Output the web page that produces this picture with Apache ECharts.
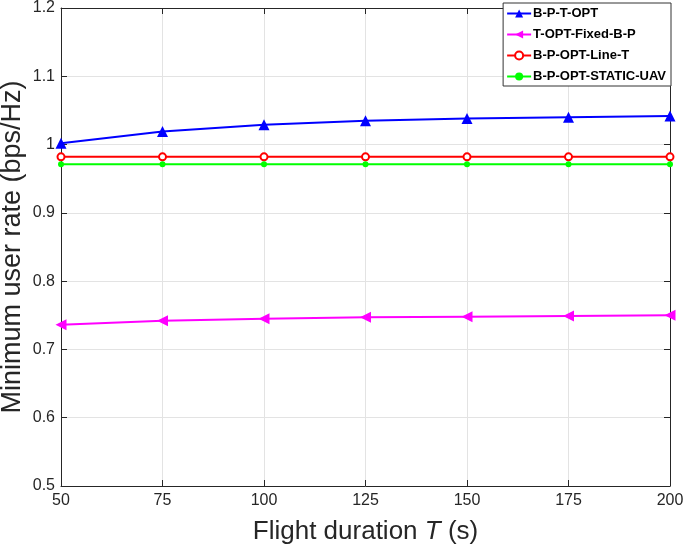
<!DOCTYPE html>
<html>
<head>
<meta charset="utf-8">
<script src="https://cdn.jsdelivr.net/npm/echarts@6/dist/echarts.min.js"></script>
<style>
  html, body { margin: 0; padding: 0; background: #fff; }
  #main { width: 685px; height: 549px; }
</style>
</head>
<body>
<div id="main"></div>
<script>
// flight duration T (s)
var durations = [50, 75, 100, 125, 150, 175, 200];

// minimum user rate (bps/Hz)
var bptOpt      = [1.002, 1.019, 1.029, 1.035, 1.038, 1.040, 1.042];
var tOptFixed   = [0.736, 0.742, 0.745, 0.747, 0.748, 0.749, 0.750];
var bpOptLine   = [0.982, 0.982, 0.982, 0.982, 0.982, 0.982, 0.982];
var bpOptStatic = [0.971, 0.971, 0.971, 0.971, 0.971, 0.971, 0.971];

var seriesNames = ['B-P-T-OPT', 'T-OPT-Fixed-B-P', 'B-P-OPT-Line-T', 'B-P-OPT-STATIC-UAV'];

function pairs(ys) {
  return durations.map(function (x, i) { return [x, ys[i]]; });
}

var font = 'Liberation Sans, Arial, Helvetica, sans-serif';
var ink = '#262626';

var chart = echarts.init(document.getElementById('main'));
chart.setOption({
  animation: false,
  textStyle: { fontFamily: font },
  grid: { left: 61, right: 15, top: 8, bottom: 63, outerBoundsMode: 'none' },
  legend: {
    data: seriesNames,
    orient: 'vertical',
    right: 14,
    top: 3,
    backgroundColor: '#fff',
    borderColor: '#333',
    borderWidth: 1,
    borderRadius: 0,
    padding: [4, 5, 3, 3],
    itemWidth: 24,
    itemHeight: 10,
    itemGap: 8,
    textStyle: { fontSize: 13, fontWeight: 'bold', color: '#000', fontFamily: font, padding: [0, 0, 0, -3] }
  },
  xAxis: [{
    type: 'value',
    min: 50, max: 200, interval: 25,
    name: 'Flight duration {i|T} (s)',
    nameLocation: 'middle',
    nameGap: 33,
    nameMoveOverlap: false,
    nameTextStyle: {
      fontSize: 26, color: ink, fontFamily: font,
      rich: { i: { fontSize: 26, fontStyle: 'italic', color: ink, fontFamily: font } }
    },
    axisLine: { lineStyle: { color: ink, width: 1 } },
    axisTick: { inside: true, length: 6, lineStyle: { color: ink } },
    axisLabel: { fontSize: 16, color: ink, margin: 7 },
    splitLine: { show: true, lineStyle: { color: '#e3e3e3' } }
  }, {
    type: 'value', position: 'top',
    min: 50, max: 200, interval: 25,
    axisLine: { show: true, lineStyle: { color: ink, width: 1 } },
    axisTick: { inside: true, length: 6, lineStyle: { color: ink } },
    axisLabel: { show: false },
    splitLine: { show: false }
  }],
  yAxis: [{
    type: 'value',
    min: 0.5, max: 1.2, interval: 0.1,
    name: 'Minimum user rate (bps/Hz)',
    nameLocation: 'middle',
    nameGap: 35,
    nameMoveOverlap: false,
    nameTextStyle: { fontSize: 27, color: ink, fontFamily: font },
    axisLine: { show: true, lineStyle: { color: ink, width: 1 } },
    axisTick: { inside: true, length: 6, lineStyle: { color: ink } },
    axisLabel: {
      fontSize: 16, color: ink, margin: 6,
      formatter: function (v) { return +v.toFixed(1) + ''; }
    },
    splitLine: { show: true, lineStyle: { color: '#e3e3e3' } }
  }, {
    type: 'value', position: 'right',
    min: 0.5, max: 1.2, interval: 0.1,
    axisLine: { show: true, lineStyle: { color: ink, width: 1 } },
    axisTick: { inside: true, length: 6, lineStyle: { color: ink } },
    axisLabel: { show: false },
    splitLine: { show: false }
  }],
  series: [{
    name: seriesNames[0], type: 'line', data: pairs(bptOpt),
    symbol: 'triangle', symbolSize: 11,
    lineStyle: { color: '#0000ff', width: 2 },
    itemStyle: { color: '#0000ff' }
  }, {
    name: seriesNames[1], type: 'line', data: pairs(tOptFixed),
    symbol: 'triangle', symbolSize: 11, symbolRotate: 90,
    lineStyle: { color: '#ff00ff', width: 2 },
    itemStyle: { color: '#ff00ff' }
  }, {
    name: seriesNames[2], type: 'line', data: pairs(bpOptLine),
    symbol: 'emptyCircle', symbolSize: 7,
    lineStyle: { color: '#ff0000', width: 2 },
    itemStyle: { color: '#ff0000', borderWidth: 2 }
  }, {
    name: seriesNames[3], type: 'line', data: pairs(bpOptStatic),
    symbol: 'circle', symbolSize: 6,
    lineStyle: { color: '#00ff00', width: 2 },
    itemStyle: { color: '#00ff00' }
  }]
});
</script>
</body>
</html>
